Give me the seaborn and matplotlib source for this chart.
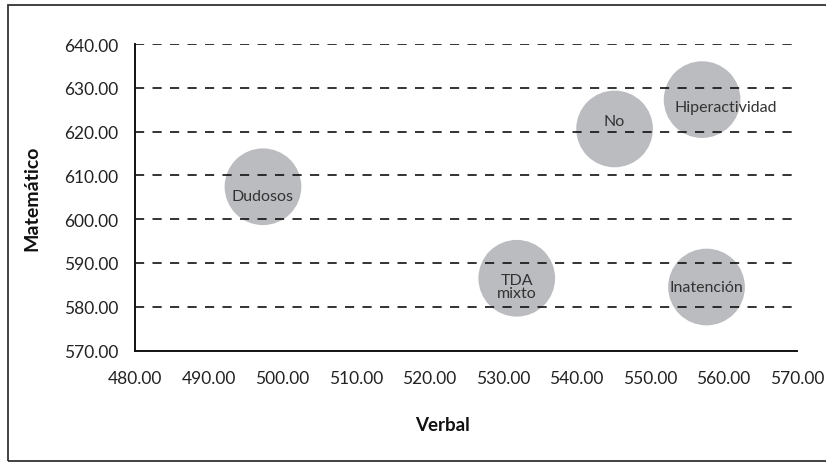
import pandas as pd
import matplotlib.pyplot as plt
import matplotlib.patches as mpatches
import seaborn as sns

# data
grupos = ['Dudosos', 'No', 'Hiperactividad', 'TDA\nmixto', 'Inatención']
verbal = [497.4, 545.2, 557.1, 531.9, 557.7]
matematico = [607.4, 620.6, 627.3, 586.5, 584.5]
x_ticks = [480, 490, 500, 510, 520, 530, 540, 550, 560, 570]
y_ticks = [570, 580, 590, 600, 610, 620, 630, 640]

df = pd.DataFrame({'Verbal': verbal, 'Matemático': matematico, 'grupo': grupos})

sns.set_style('white')
plt.rcParams['font.family'] = ['Lato', 'DejaVu Sans']

fig = plt.figure(figsize=(8.26, 4.64), dpi=100)
ax = fig.add_axes([135 / 826, 1 - 351.5 / 464, 662 / 826, 306.5 / 464])

# bubbles
sns.scatterplot(data=df, x='Verbal', y='Matemático', s=3050, color='#bbbcc0',
                edgecolor='none', linewidth=0, legend=False, ax=ax, zorder=1)

# labels on the bubbles (offsets in points)
offsets = [(0, -7), (0, 6), (17, -5), (0, -6), (0, 0)]
for (_, r), off in zip(df.iterrows(), offsets):
    ax.annotate(r['grupo'], (r['Verbal'], r['Matemático']), xytext=off,
                textcoords='offset points', ha='center', va='center',
                fontsize=11.5, color='#333333', zorder=4, linespacing=0.9)

# axes
ax.set_xlim(480, 570)
ax.set_ylim(570, 640)
ax.set_xticks(x_ticks)
ax.set_yticks(y_ticks)
ax.set_xticklabels([f'{v:.2f}' for v in x_ticks])
ax.set_yticklabels([f'{v:.2f}' for v in y_ticks])
ax.tick_params(axis='both', labelsize=12.5, colors='#222222', length=7, width=1.3,
               direction='out', pad=5)
ax.tick_params(axis='x', length=9)

sns.despine(ax=ax)
for s in ['left', 'bottom']:
    ax.spines[s].set_color('#111111')
    ax.spines[s].set_linewidth(1.4)

# dashed grid drawn over the bubbles
ax.set_axisbelow(False)
ax.yaxis.grid(True, linestyle=(0, (5.5, 5)), color='#111111', linewidth=1.2)
ax.get_ygridlines()[0].set_visible(False)

ax.set_xlabel('Verbal', fontsize=13.5, fontweight='bold', color='#111111')
ax.set_ylabel('Matemático', fontsize=14, fontweight='bold', color='#111111')
ax.xaxis.set_label_coords(0.465, -0.214)
ax.yaxis.set_label_coords(-0.1435, 0.5)

# outer frame
frame = mpatches.Rectangle((8 / 826, 2 / 464), 1.0, 456 / 464, transform=fig.transFigure,
                           fill=False, edgecolor='#333333', linewidth=1.3, clip_on=False)
fig.add_artist(frame)

fig.savefig('out.png', dpi=100)
